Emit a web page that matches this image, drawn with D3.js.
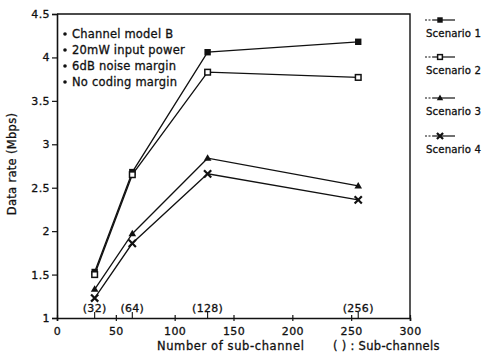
<!DOCTYPE html>
<html>
<head>
<meta charset="utf-8">
<script src="https://cdn.jsdelivr.net/npm/d3@7"></script>
<style>
  html, body { margin: 0; padding: 0; background: #fff; }
  svg { display: block; font-family: "DejaVu Sans", sans-serif; }
  text { fill: #111; stroke: #111; stroke-width: 0.3px; }
</style>
</head>
<body>
<svg id="chart" width="495" height="357"></svg>
<script>
// Sub-channel counts (x positions of the measurements)
const subChannels = [32, 64, 128, 256];
const subChannelLabels = ["(32)", "(64)", "(128)", "(256)"];

// Data rate (Mbps) per scenario
const scenario1 = [1.53, 2.68, 4.06, 4.18];
const scenario2 = [1.50, 2.65, 3.83, 3.77];
const scenario3 = [1.33, 1.97, 2.84, 2.52];
const scenario4 = [1.23, 1.86, 2.66, 2.36];

const seriesNames = ["Scenario 1", "Scenario 2", "Scenario 3", "Scenario 4"];
const seriesMarkers = ["filledSquare", "openSquare", "triangle", "cross"];

const xTicks = [0, 50, 100, 150, 200, 250, 300];
const yTicks = [1, 1.5, 2, 2.5, 3, 3.5, 4, 4.5];

const notes = ["Channel model B", "20mW input power", "6dB noise margin", "No coding margin"];

const allSeries = [scenario1, scenario2, scenario3, scenario4];

const svg = d3.select("#chart");
const ink = "#111";

const x = d3.scaleLinear().domain([0, 300]).range([57, 410]);
const y = d3.scaleLinear().domain([1, 4.5]).range([318, 14]);

// Plot frame (top and right edges)
svg.append("path")
  .attr("d", `M${x(0)},${y(4.5)}H${x(300)}V${y(1)}`)
  .attr("fill", "none").attr("stroke", ink).attr("stroke-width", 1.4);

// Y axis
const yAxis = svg.append("g")
  .attr("transform", `translate(${x(0)},0)`)
  .call(d3.axisLeft(y).tickValues(yTicks).tickFormat(d3.format("~g")).tickSize(5).tickPadding(2));
yAxis.select(".domain").attr("stroke", ink).attr("stroke-width", 1.6);
yAxis.selectAll(".tick line").attr("stroke", ink).attr("stroke-width", 1.2);
yAxis.selectAll(".tick text")
  .attr("font-size", 11).attr("letter-spacing", 0.4)
  .attr("font-family", "DejaVu Sans").attr("fill", ink);

// X axis (ticks cross the axis line)
const xAxis = svg.append("g")
  .attr("transform", `translate(0,${y(1)})`)
  .call(d3.axisBottom(x).tickValues(xTicks).tickSize(3).tickPadding(6));
xAxis.select(".domain").attr("stroke", ink).attr("stroke-width", 1.6);
xAxis.selectAll(".tick line").attr("y1", -3).attr("y2", 3).attr("stroke", ink).attr("stroke-width", 1.2);
xAxis.selectAll(".tick text")
  .attr("font-size", 11).attr("letter-spacing", 0.4)
  .attr("font-family", "DejaVu Sans").attr("fill", ink);

// Sub-channel markers on the x axis with bracketed counts
svg.append("g").selectAll("line")
  .data(subChannels).join("line")
  .attr("x1", d => x(d)).attr("x2", d => x(d))
  .attr("y1", y(1)).attr("y2", y(1) - 6)
  .attr("stroke", ink).attr("stroke-width", 1.1);
svg.append("g").selectAll("text")
  .data(subChannels).join("text")
  .attr("x", d => x(d)).attr("y", y(1) - 6)
  .attr("text-anchor", "middle")
  .attr("font-size", 11).attr("letter-spacing", 0.3)
  .text((d, i) => subChannelLabels[i]);

// Axis titles
svg.append("text")
  .attr("transform", `translate(16,164) rotate(-90)`)
  .attr("text-anchor", "middle")
  .attr("font-size", 11.5).attr("letter-spacing", 0.3)
  .text("Data rate (Mbps)");
svg.append("text")
  .attr("x", 157).attr("y", 350)
  .attr("font-size", 11.5).attr("letter-spacing", 0.6)
  .text("Number of sub-channel");
svg.append("text")
  .attr("x", 333).attr("y", 350)
  .attr("font-size", 11.5).attr("letter-spacing", 0.3)
  .attr("xml:space", "preserve")
  .text("( ) : Sub-channels");

// Condition notes inside the plot
const noteG = svg.append("g");
notes.forEach((t, i) => {
  const by = 38 + i * 16;
  noteG.append("circle").attr("cx", 65).attr("cy", by - 4).attr("r", 1.8).attr("fill", ink);
  noteG.append("text").attr("x", 72).attr("y", by)
    .attr("font-size", 11.5).attr("letter-spacing", 0.2).text(t);
});

// Marker drawing
function drawMarker(g, type, cx, cy, k = 1) {
  if (type === "filledSquare") {
    g.append("rect").attr("x", cx - 3.2 * k).attr("y", cy - 3.2 * k)
      .attr("width", 6.4 * k).attr("height", 6.4 * k).attr("fill", ink);
  } else if (type === "openSquare") {
    g.append("rect").attr("x", cx - 2.8 * k).attr("y", cy - 2.8 * k)
      .attr("width", 5.6 * k).attr("height", 5.6 * k)
      .attr("fill", "#fff").attr("stroke", ink).attr("stroke-width", 1.5);
  } else if (type === "triangle") {
    g.append("path")
      .attr("d", `M${cx},${cy - 4 * k}L${cx + 3.8 * k},${cy + 2.5 * k}L${cx - 3.8 * k},${cy + 2.5 * k}Z`)
      .attr("fill", ink);
  } else {
    const r = 3.6 * k;
    g.append("path")
      .attr("d", `M${cx - r},${cy - r}L${cx + r},${cy + r}M${cx + r},${cy - r}L${cx - r},${cy + r}`)
      .attr("stroke", ink).attr("stroke-width", 2.2);
  }
}

// Series lines and markers
const line = d3.line().x((d, i) => x(subChannels[i])).y(d => y(d));
allSeries.forEach((vals, s) => {
  const g = svg.append("g");
  g.append("path").attr("d", line(vals))
    .attr("fill", "none").attr("stroke", ink).attr("stroke-width", 1.3);
  vals.forEach((v, i) => drawMarker(g, seriesMarkers[s], x(subChannels[i]), y(v)));
});

// Legend
const legendSymbolY = [20, 57, 98, 136];
seriesNames.forEach((name, s) => {
  const g = svg.append("g");
  const ly = legendSymbolY[s];
  g.append("line").attr("x1", 425).attr("x2", 433).attr("y1", ly).attr("y2", ly)
    .attr("stroke", ink).attr("stroke-width", 1.1).attr("stroke-dasharray", "2,1.5");
  g.append("line").attr("x1", 433).attr("x2", 455).attr("y1", ly).attr("y2", ly)
    .attr("stroke", ink).attr("stroke-width", 1.2);
  drawMarker(g, seriesMarkers[s], 440, ly, 0.85);
  g.append("text").attr("x", 426).attr("y", ly + 17)
    .attr("font-size", 10.2).attr("letter-spacing", 0.1).text(name);
});
</script>
</body>
</html>
